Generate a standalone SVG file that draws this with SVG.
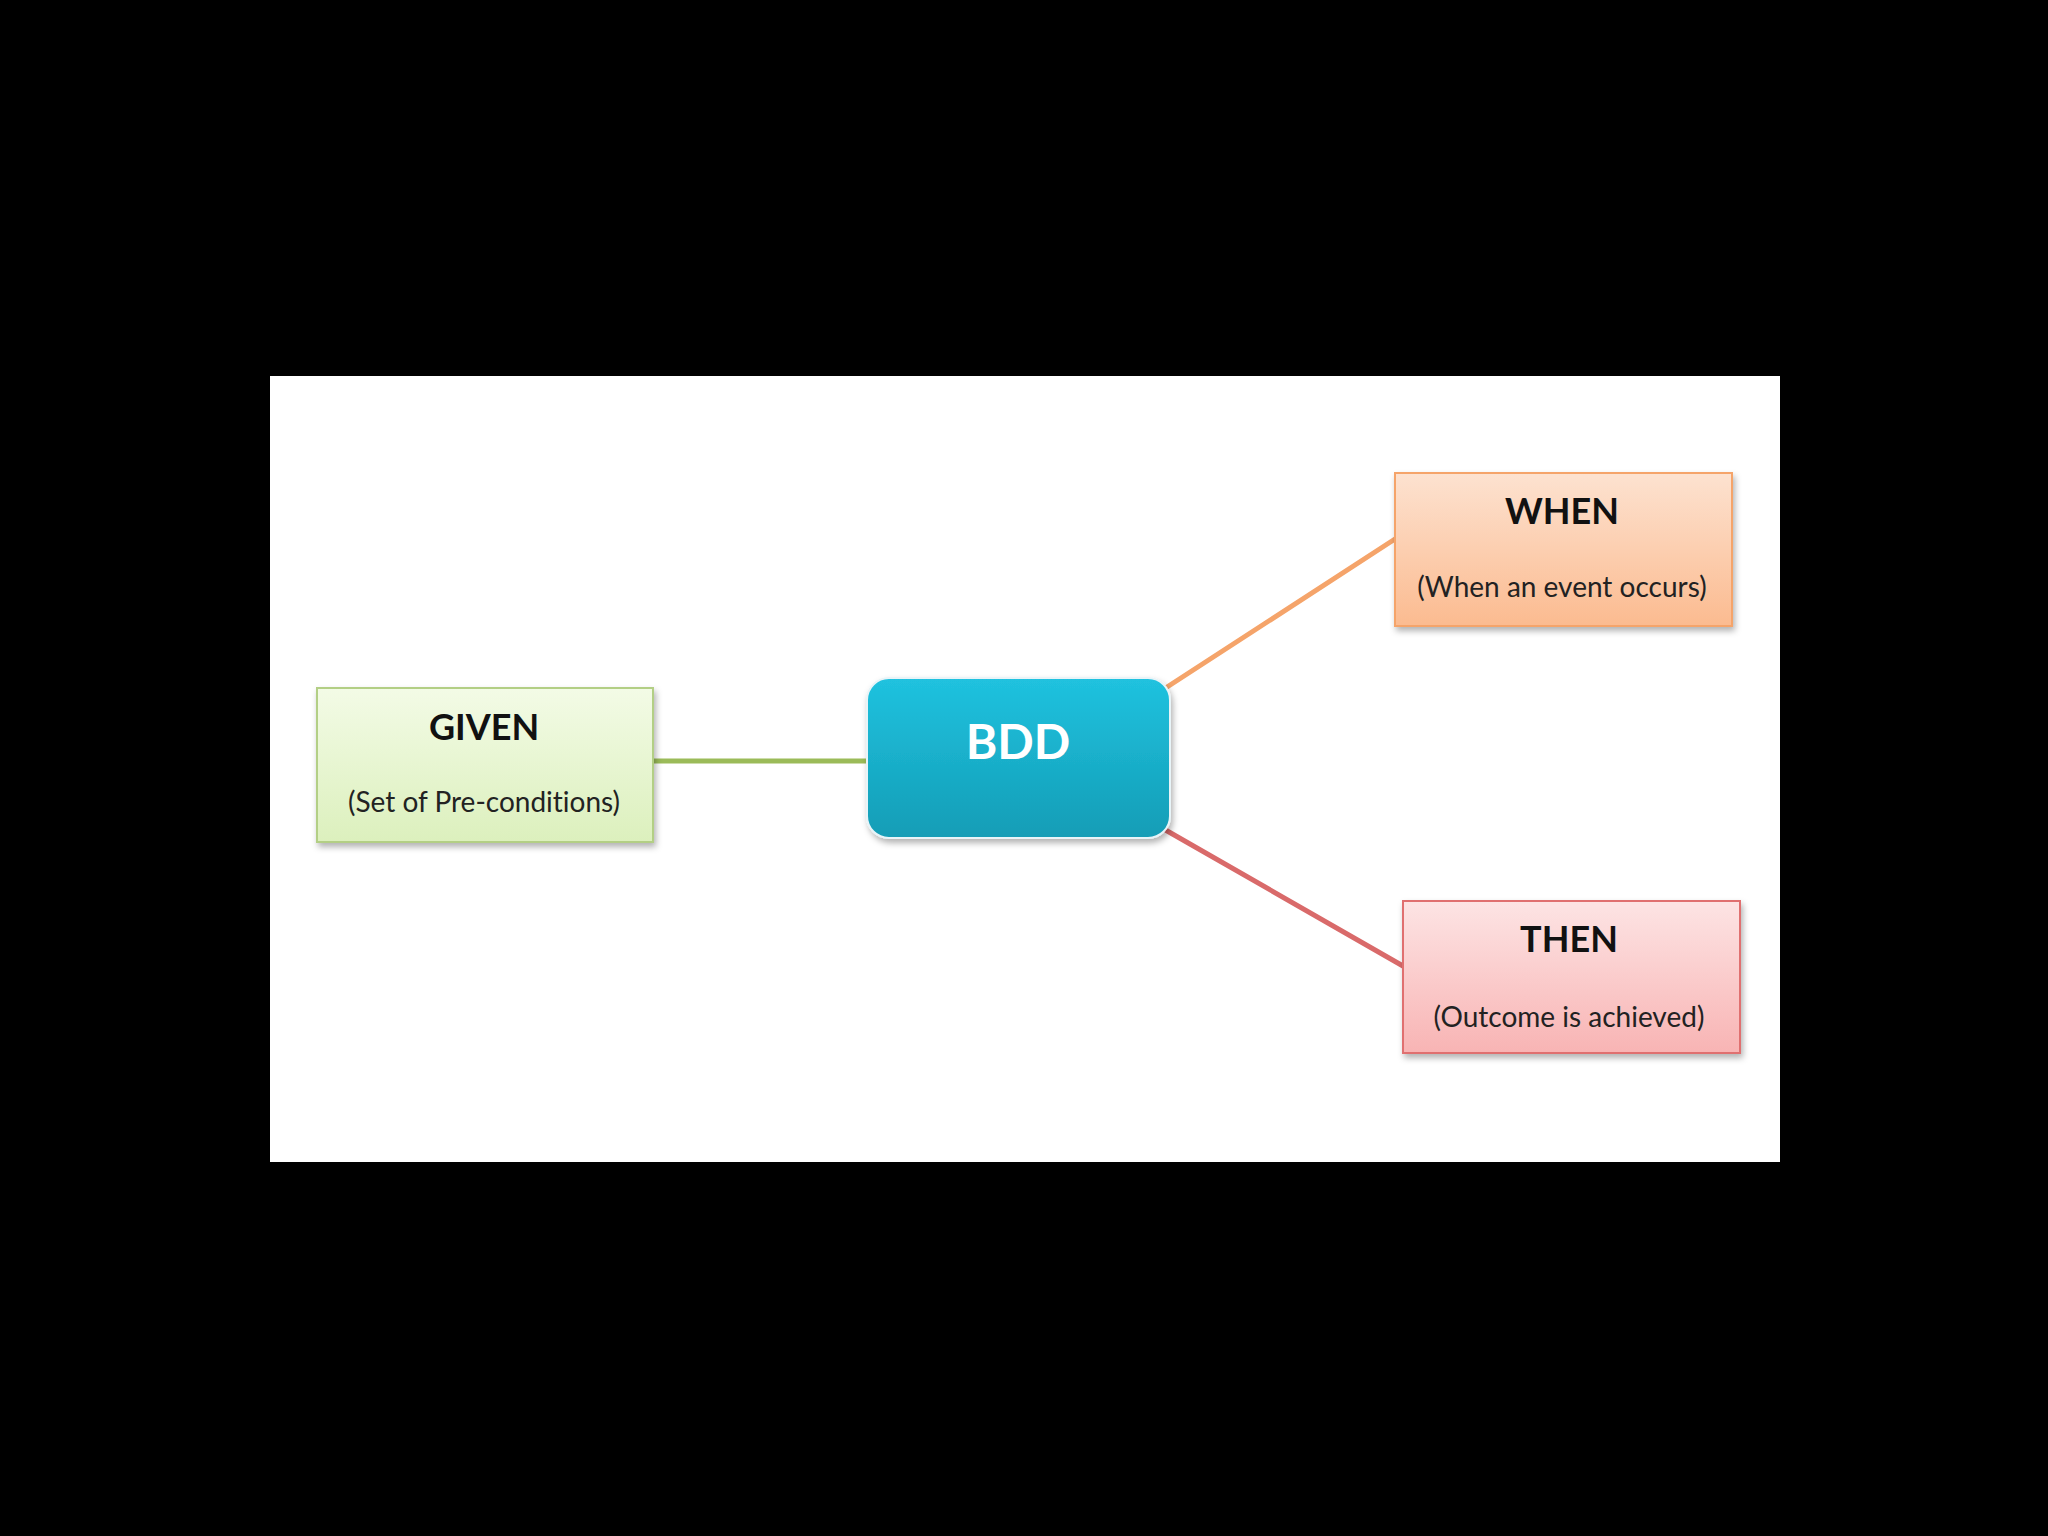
<svg xmlns="http://www.w3.org/2000/svg" width="2048" height="1536" viewBox="0 0 2048 1536">
<style>
text{font-variant-ligatures:none;font-feature-settings:"liga" 0}
.title{font-family:Lato,"Liberation Sans",sans-serif;font-weight:bold;font-size:36px;fill:#111;text-anchor:middle}
.sub{font-family:Lato,"Liberation Sans",sans-serif;font-size:28px;fill:#222;text-anchor:middle}
.bdd{font-family:Lato,"Liberation Sans",sans-serif;font-weight:bold;font-size:48px;fill:#fff;text-anchor:middle}
.conn{fill:none;stroke-width:5;stroke-linecap:round}
</style>
<defs>
<linearGradient id="gGreen" x1="0" y1="0" x2="0" y2="1"><stop offset="0" stop-color="#f3fbe6"/><stop offset="1" stop-color="#dcf0bd"/></linearGradient>
<linearGradient id="gOrange" x1="0" y1="0" x2="0" y2="1"><stop offset="0" stop-color="#fde2d0"/><stop offset="1" stop-color="#fbbb90"/></linearGradient>
<linearGradient id="gRed" x1="0" y1="0" x2="0" y2="1"><stop offset="0" stop-color="#fde4e4"/><stop offset="1" stop-color="#f8b4b4"/></linearGradient>
<linearGradient id="gBlue" x1="0" y1="0" x2="0" y2="1"><stop offset="0" stop-color="#20c2df"/><stop offset="1" stop-color="#139db6"/></linearGradient>
<filter id="sh" x="-10%" y="-10%" width="125%" height="130%"><feDropShadow dx="2" dy="4" stdDeviation="3" flood-color="#000" flood-opacity="0.3"/></filter>
</defs>
<rect x="0" y="0" width="2048" height="1536" fill="#000"/>
<rect x="270" y="376" width="1510" height="786" fill="#fff"/>
<g id="connectors">
<line class="conn" x1="653" y1="761" x2="868" y2="761" stroke="#9bbb59"/>
<line class="conn" x1="1164" y1="689" x2="1395" y2="539" stroke="#f5a46a"/>
<line class="conn" x1="1162" y1="828" x2="1403" y2="966" stroke="#d96a6a"/>
</g>
<g id="given">
<rect x="317" y="688" width="336" height="154" fill="url(#gGreen)" stroke="#b3cf85" stroke-width="2" filter="url(#sh)"/>
<text class="title" x="484" y="740">GIVEN</text>
<text class="sub" x="484" y="812">(Set of Pre-conditions)</text>
</g>
<g id="bdd">
<rect x="867" y="678" width="303" height="160" rx="22" ry="22" fill="url(#gBlue)" stroke="#e8f4f8" stroke-width="2" filter="url(#sh)"/>
<text class="bdd" x="1018" y="759">BDD</text>
</g>
<g id="when">
<rect x="1395" y="473" width="337" height="153" fill="url(#gOrange)" stroke="#f5a46a" stroke-width="2" filter="url(#sh)"/>
<text class="title" x="1562" y="524">WHEN</text>
<text class="sub" x="1562" y="597">(When an event occurs)</text>
</g>
<g id="then">
<rect x="1403" y="901" width="337" height="152" fill="url(#gRed)" stroke="#e07070" stroke-width="2" filter="url(#sh)"/>
<text class="title" x="1569" y="952">THEN</text>
<text class="sub" x="1569" y="1027">(Outcome is achieved)</text>
</g>
</svg>
